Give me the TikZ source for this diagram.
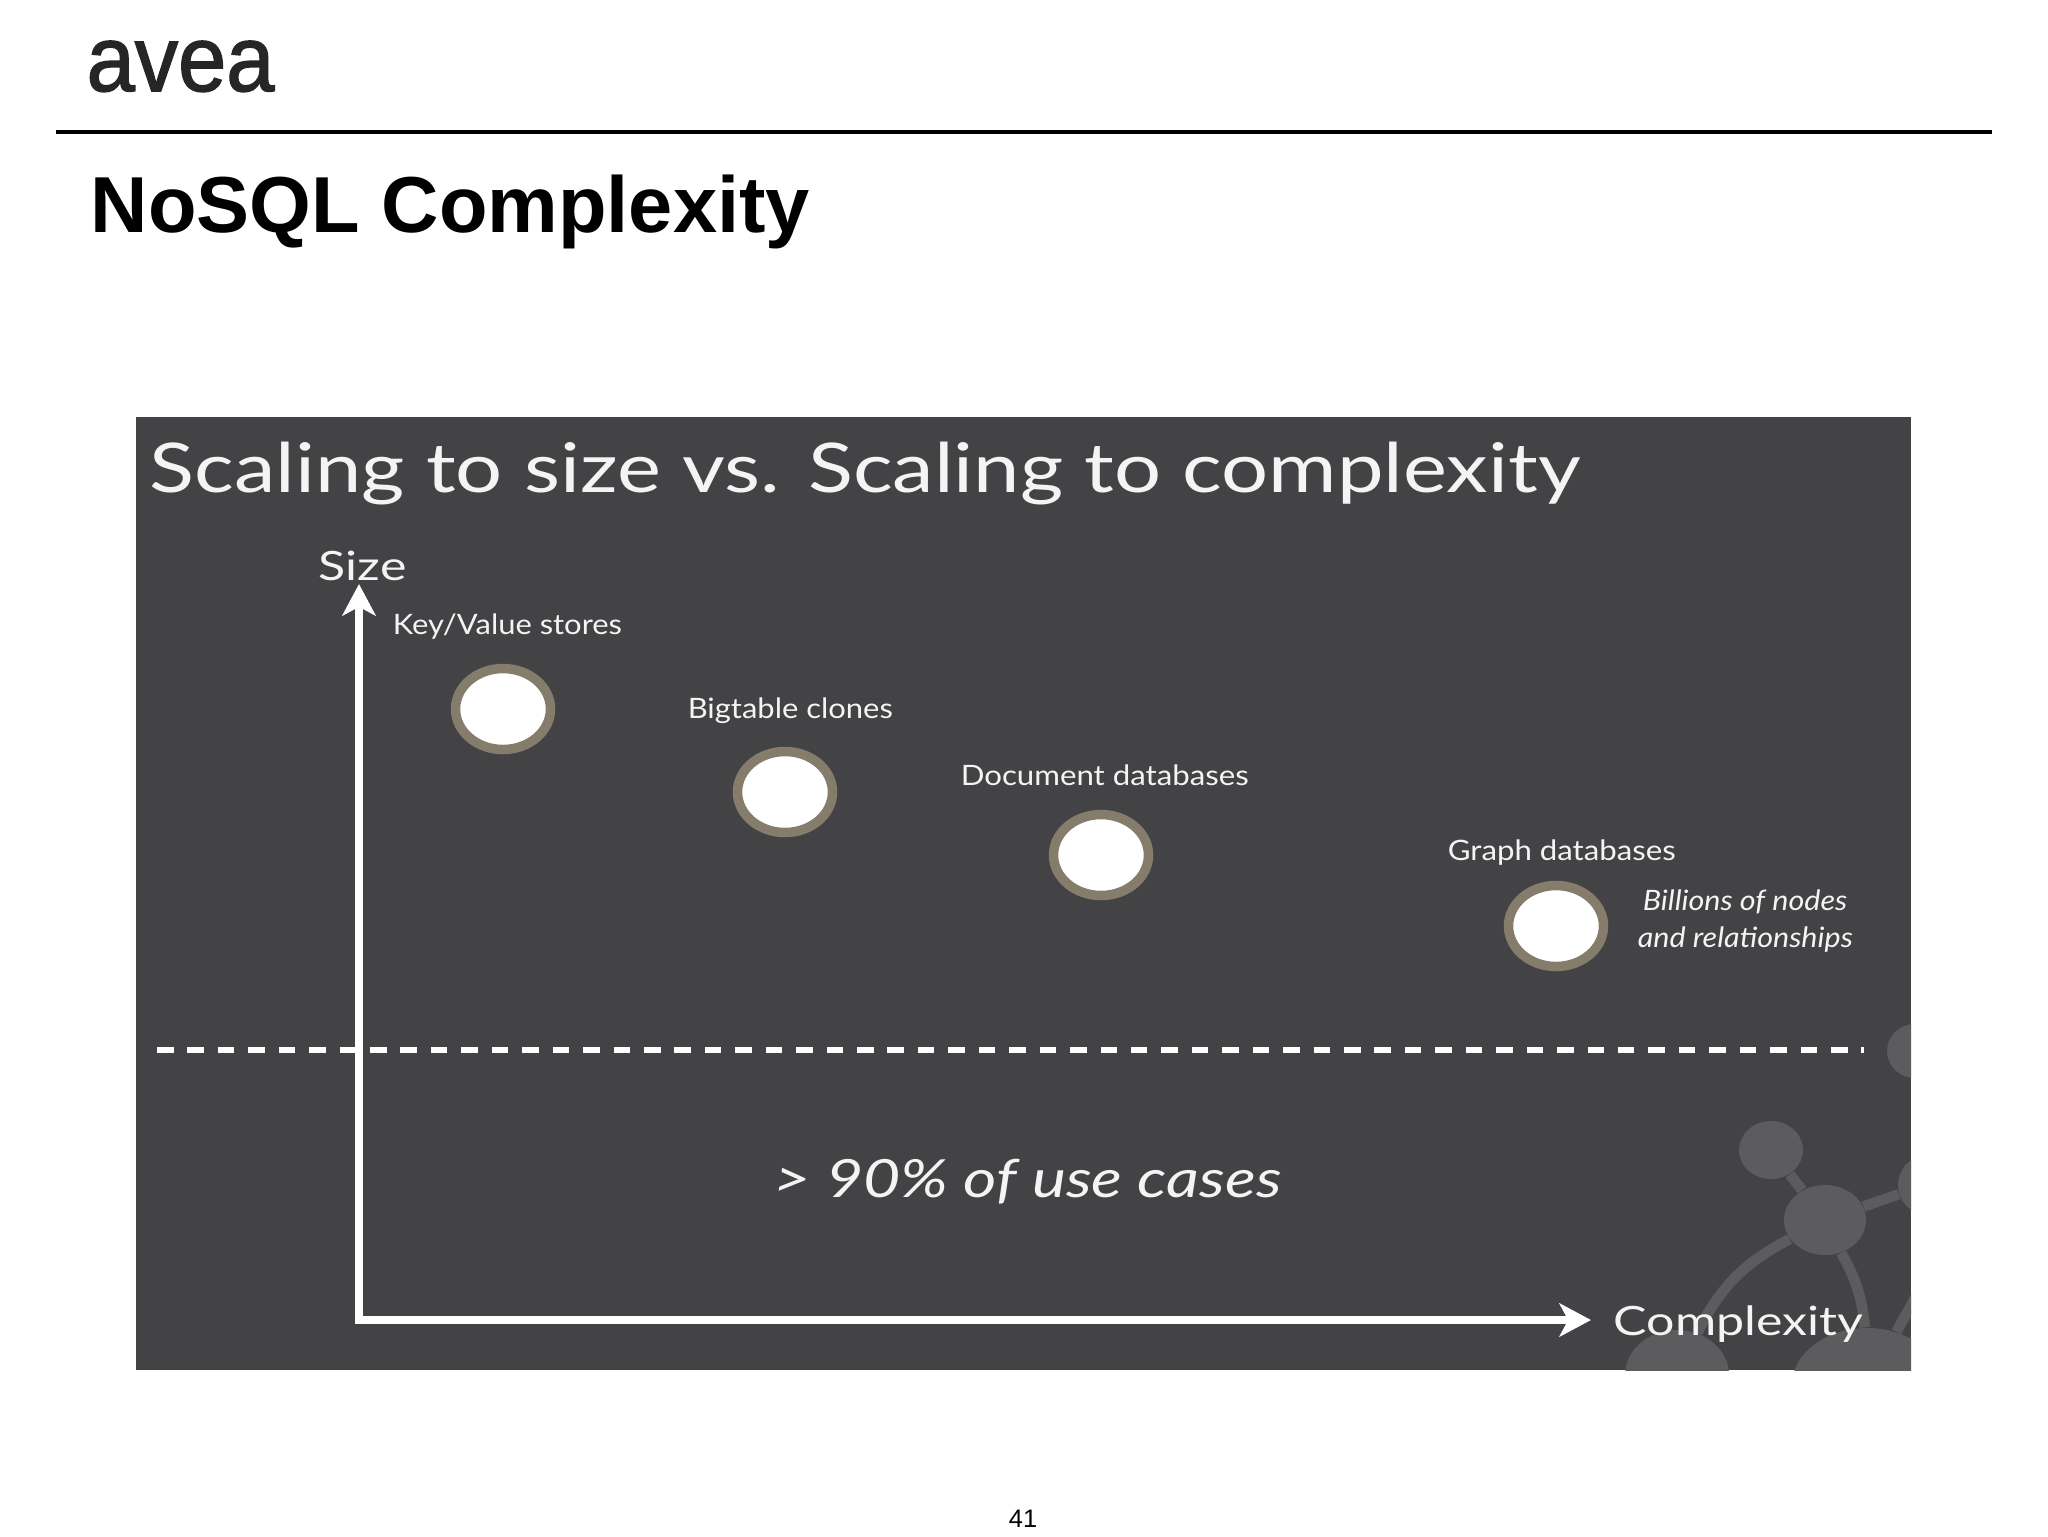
\documentclass[tikz,border=0pt]{standalone}
\usepackage{fontspec}
\setmainfont{Liberation Sans}
\newfontfamily\panelfont{Lato}
\newfontfamily\logofont[FakeBold=1.6]{Liberation Sans}
\usetikzlibrary{arrows.meta,shapes.geometric}
\definecolor{panelgray}{HTML}{434244}
\definecolor{backgray}{HTML}{5C5B5D}
\definecolor{ringtan}{HTML}{857C6C}
\definecolor{paneltext}{HTML}{F4F4F4}
\tikzset{
  paneltxt/.style 2 args={anchor=base west,inner sep=0pt,text=paneltext,xscale=#2,font=\panelfont\fontsize{#1}{#1}\selectfont},
  panelital/.style 2 args={anchor=base west,inner sep=0pt,text=paneltext,xscale=#2,font=\panelfont\itshape\fontsize{#1}{#1}\selectfont},
  dbdot/.style={draw=ringtan,fill=white,ellipse,line width=2.7pt,minimum width=0.95cm,minimum height=0.81cm,inner sep=0pt},
  axisline/.style={white,line width=2.2pt,line cap=rect,-{Stealth[length=9pt,width=9.5pt,inset=2.5pt]}},
  backdot/.style={fill=backgray,ellipse,inner sep=0pt},
  backlink/.style={backgray,line width=3pt}
}
\begin{document}
\begin{tikzpicture}[x=0.1mm,y=-0.1mm]
\useasboundingbox (0,0) rectangle (2048,1536);
\fill[white] (0,0) rectangle (2048,1536);
\node[anchor=base west,inner sep=0pt,text=black!85,xscale=0.93,font=\logofont\fontsize{26.5}{26.5}\selectfont] (logo) at (86,91) {avea};
\coordinate (ruleLeft) at (56,132);
\coordinate (ruleRight) at (1992,132);
\draw[line width=0.9pt] (ruleLeft) -- (ruleRight);
\node[anchor=base west,inner sep=0pt,font=\bfseries\fontsize{22.6}{22.6}\selectfont] (title) at (90,232) {NoSQL Complexity};
\fill[panelgray] (136,417) rectangle (1911,1370);
\begin{scope}
\clip (136,417) rectangle (1911,1370);
\node[backdot,minimum width=0.64cm,minimum height=0.58cm] (backa) at (1771,1150) {};
\node[backdot,minimum width=0.82cm,minimum height=0.70cm] (backb) at (1825,1220) {};
\node[backdot,minimum width=0.56cm,minimum height=0.54cm] (backc) at (1915,1051) {};
\node[backdot,minimum width=0.54cm,minimum height=0.58cm] (backd) at (1925,1185) {};
\node[backdot,minimum width=1.04cm,minimum height=0.90cm] (backe) at (1677,1375) {};
\node[backdot,minimum width=1.50cm,minimum height=1.14cm] (backf) at (1867,1385) {};
\coordinate (backg) at (1925,1280);
\draw[backlink] (backa) -- (backb);
\draw[backlink] (backb) -- (backd);
\draw[backlink] (backb) to[bend right=18] (backe);
\draw[backlink] (backb) to[bend left=12] (backf);
\draw[backlink] (backf) -- (backg);
\end{scope}
\node[paneltxt={19.5}{1.213}] (heading) at (149,492) {Scaling to size vs. Scaling to complexity};
\coordinate (origin) at (359,1320);
\coordinate (sizeTip) at (359,584);
\coordinate (complexityTip) at (1591,1320);
\draw[axisline] (origin) -- (sizeTip);
\draw[axisline] (origin) -- (complexityTip);
\node[paneltxt={11.5}{1.24}] (sizeLabel) at (318,580) {Size};
\node[paneltxt={11.5}{1.24}] (complexityLabel) at (1613,1335) {Complexity};
\node[dbdot] (keyvalue) at (503,709) {};
\node[dbdot] (bigtable) at (785,792) {};
\node[dbdot] (document) at (1101,855) {};
\node[dbdot] (graph) at (1556,926) {};
\node[paneltxt={8}{1.1}] (keyvalueLabel) at (392,634) {Key/Value stores};
\node[paneltxt={8}{1.1}] (bigtableLabel) at (687,718) {Bigtable clones};
\node[paneltxt={8}{1.11}] (documentLabel) at (960,785) {Document databases};
\node[paneltxt={8}{1.11}] (graphLabel) at (1447,860) {Graph databases};
\node[panelital={8}{1.085}] (billionsLabel) at (1642,910) {Billions of nodes};
\node[panelital={8}{1.085}] (relationsLabel) at (1637,947) {and relationships};
\coordinate (dashLeft) at (157,1050);
\coordinate (dashRight) at (1864,1050);
\draw[white,line width=1.9pt,dash pattern=on 4.7pt off 3.96pt] (dashLeft) -- (dashRight);
\node[panelital={15}{1.22}] (casesLabel) at (773,1197) {> 90\% of use cases};
\node[anchor=base,inner sep=0pt,font=\fontsize{7.2}{7.2}\selectfont] (pageNum) at (1023,1527) {41};
\end{tikzpicture}
\end{document}
